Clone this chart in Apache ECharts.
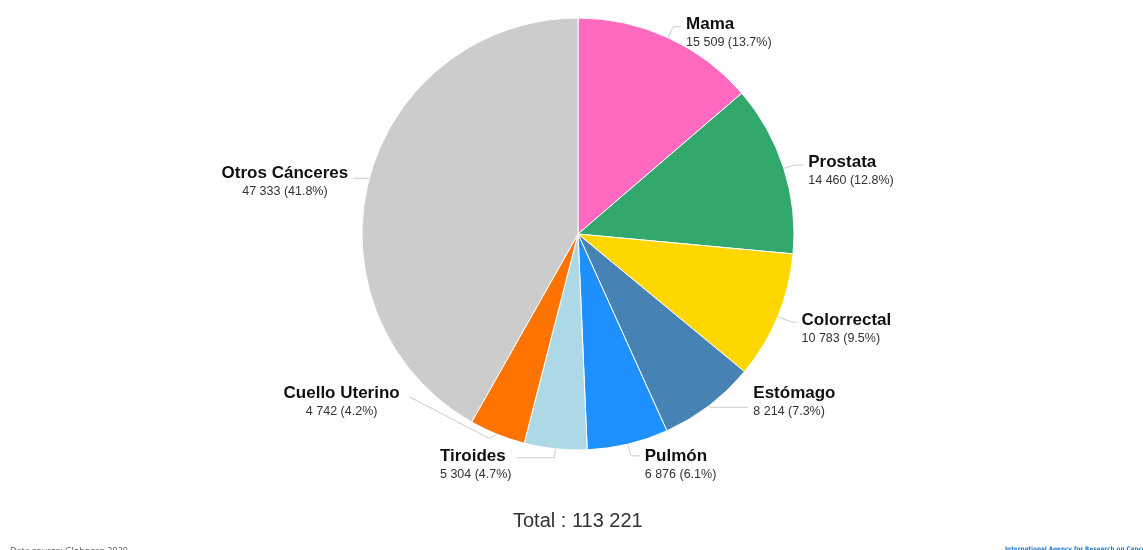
<!DOCTYPE html>
<html>
<head>
<meta charset="utf-8">
<script src="https://cdn.jsdelivr.net/npm/echarts@6/dist/echarts.min.js"></script>
<style>
  html, body { margin: 0; padding: 0; background: #fff; }
  #chart { width: 1143px; height: 550px; }
</style>
</head>
<body>
<div id="chart"></div>
<script>
  var categories = ['Mama', 'Prostata', 'Colorrectal', 'Estómago', 'Pulmón', 'Tiroides', 'Cuello Uterino', 'Otros Cánceres'];
  var values = [15509, 14460, 10783, 8214, 6876, 5304, 4742, 47333];
  var colors = ['#ff69c0', '#33a86d', '#ffd700', '#4682b4', '#1e90ff', '#add8e6', '#ff7400', '#cccccc'];

  function fmt(n) {
    return String(n).replace(/\B(?=(\d{3})+(?!\d))/g, ' ');
  }
  var total = values.reduce(function (a, b) { return a + b; }, 0);

  // label placement tweaks (line lengths, padding, text alignment) per slice
  var tweaks = [
    { len: 12, len2: 8, pad: [12, 0, 0, 0], al: 'L' },
    { len: 11, len2: 9, pad: [11, 0, 0, 0], al: 'L' },
    { len: 15, len2: 5, pad: [13, 0, 0, 0], al: 'L' },
    { len: 2, len2: 38, pad: [0, 0, 11, 0], al: 'L' },
    { len: 12, len2: 9, pad: [17, 0, 0, 0], al: 'L' },
    { len: 9, len2: 38, pad: [14, 0, 0, 0], al: 'L' },
    { len: 4, len2: 91, pad: [0, 0, 72, 0], al: 'C' },
    { len: 3, len2: 13, pad: [7, 0, 0, 0], al: 'C' }
  ];

  var myChart = echarts.init(document.getElementById('chart'));
  myChart.setOption({
    backgroundColor: '#fff',
    animation: false,
    color: colors,
    title: [{
      text: 'Total : ' + fmt(total),
      left: 508,
      top: 506,
      textStyle: { fontFamily: 'Liberation Sans', fontSize: 20, fontWeight: 'normal', color: '#333' }
    }, {
      text: 'Data source: Globocan 2020',
      left: 5,
      top: 542,
      textStyle: { fontFamily: 'Open Sans', fontSize: 9, fontWeight: 'normal', color: '#555' }
    }, {
      text: 'International Agency for Research on Cancer',
      left: 1000,
      top: 541,
      textStyle: { fontFamily: 'DejaVu Sans Condensed', fontSize: 6.3, fontWeight: 'bold', color: '#1e78c8' }
    }],
    series: [{
      type: 'pie',
      center: [578, 234],
      radius: 216,
      startAngle: 90,
      clockwise: true,
      avoidLabelOverlap: false,
      itemStyle: { borderColor: '#fff', borderWidth: 1 },
      label: {
        fontFamily: 'Liberation Sans',
        formatter: function (p) {
          var a = tweaks[p.dataIndex].al;
          var pct = (p.value / total * 100).toFixed(1);
          return '{n' + a + '|' + p.name + '}\n{v' + a + '|' + fmt(p.value) + ' (' + pct + '%)}';
        },
        rich: {
          nL: { fontSize: 17, fontWeight: 'bold', color: '#111', lineHeight: 20, align: 'left' },
          vL: { fontSize: 12.5, color: '#333', lineHeight: 17, align: 'left' },
          nC: { fontSize: 17, fontWeight: 'bold', color: '#111', lineHeight: 20, align: 'center' },
          vC: { fontSize: 12.5, color: '#333', lineHeight: 17, align: 'center' }
        }
      },
      labelLine: {
        lineStyle: { color: '#ccc', width: 1 }
      },
      // Cuello Uterino: connector runs from the slice up to the end of the name
      labelLayout: function (params) {
        if (params.dataIndex !== 6 || !params.labelLinePoints) return {};
        var p0 = params.labelLinePoints[0];
        var r = params.labelRect;
        return {
          labelLinePoints: [
            [p0[0], p0[1]],
            [p0[0] - 8, p0[1] + 4],
            [r.x + r.width + 10, r.y + 12]
          ]
        };
      },
      data: categories.map(function (c, i) {
        return {
          name: c,
          value: values[i],
          label: { padding: tweaks[i].pad },
          labelLine: { length: tweaks[i].len, length2: tweaks[i].len2 }
        };
      })
    }]
  });
</script>
</body>
</html>
